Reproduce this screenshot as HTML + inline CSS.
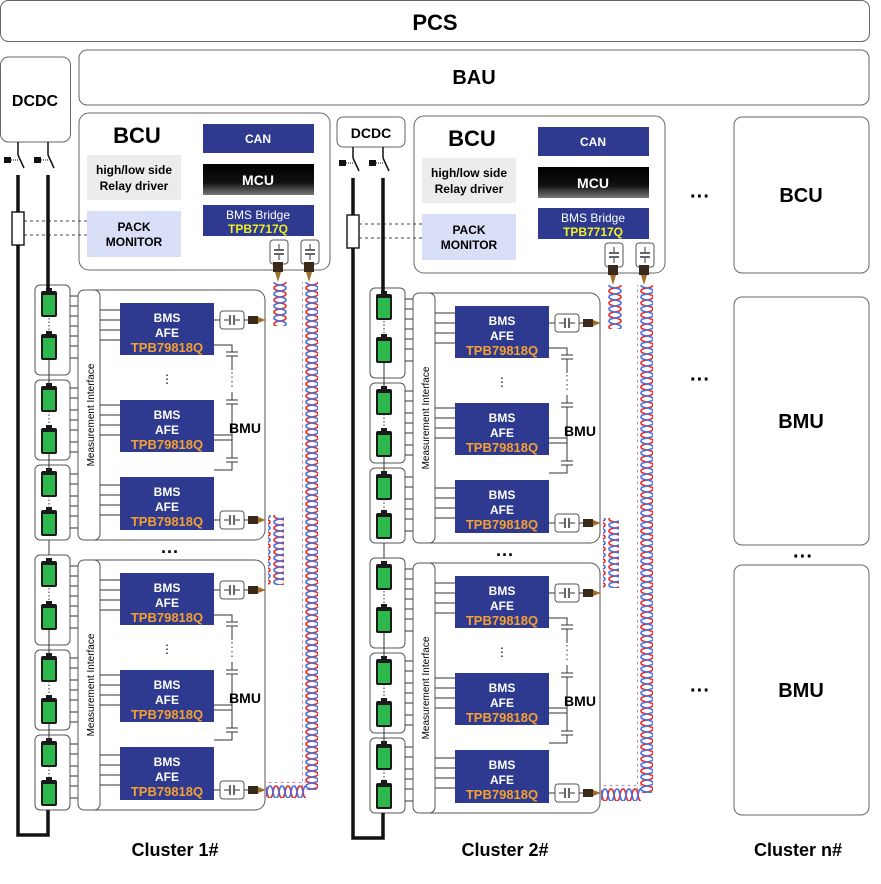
<!DOCTYPE html>
<html><head><meta charset="utf-8"><style>
html,body{margin:0;padding:0;background:#fff}
svg{display:block;font-family:"Liberation Sans",Arial,sans-serif}
.b{font-weight:bold}
</style></head><body>
<svg width="881" height="884" viewBox="0 0 881 884" xmlns="http://www.w3.org/2000/svg">
<defs>
<linearGradient id="mcu" x1="0" y1="0" x2="0" y2="1"><stop offset="0" stop-color="#000"/><stop offset="0.6" stop-color="#111"/><stop offset="1" stop-color="#777"/></linearGradient>
<pattern id="tw" width="16" height="12" patternUnits="userSpaceOnUse">
<path d="M2,0 C2,4 14,2 14,6 C14,10 2,8 2,12" stroke="#e03030" stroke-width="1.6" fill="none"/>
<path d="M14,0 C14,4 2,2 2,6 C2,10 14,8 14,12" stroke="#4a6ee0" stroke-width="1.6" fill="none"/>
</pattern>
<pattern id="twh" width="12" height="16" patternUnits="userSpaceOnUse">
<path d="M0,2 C4,2 2,14 6,14 C10,14 8,2 12,2" stroke="#e03030" stroke-width="1.6" fill="none"/>
<path d="M0,14 C4,14 2,2 6,2 C10,2 8,14 12,14" stroke="#4a6ee0" stroke-width="1.6" fill="none"/>
</pattern>
<g id="cell"><rect x="0" y="0" width="16" height="26" rx="2" fill="#1a1a1a"/><rect x="2" y="4" width="12" height="20" fill="#2db84d"/><rect x="5" y="-3" width="6" height="4" fill="#1a1a1a"/></g>
<g id="xf"><rect x="0" y="0" width="24" height="18" rx="3" fill="#fff" stroke="#555"/><line x1="10" y1="4" x2="10" y2="14" stroke="#333" stroke-width="1.5"/><line x1="14" y1="4" x2="14" y2="14" stroke="#333" stroke-width="1.5"/><line x1="4" y1="9" x2="9" y2="9" stroke="#333"/><line x1="15" y1="9" x2="20" y2="9" stroke="#333"/></g>
<g id="conn"><rect x="0" y="-4" width="10" height="8" fill="#3a2a1a"/><path d="M10,-3 L18,0 L10,3Z" fill="#a0702a"/></g>
<g id="cap"><line x1="-6" y1="0" x2="6" y2="0" stroke="#333"/><line x1="-6" y1="4" x2="6" y2="4" stroke="#333"/></g>
<g id="mod">
<rect x="35" y="285" width="35" height="90" rx="5" fill="#fff" stroke="#555"/>
<rect x="35" y="380" width="35" height="80" rx="5" fill="#fff" stroke="#555"/>
<rect x="35" y="465" width="35" height="75" rx="5" fill="#fff" stroke="#555"/>
<use href="#cell" x="41" y="291"/><use href="#cell" x="41" y="334"/>
<use href="#cell" x="41" y="386"/><use href="#cell" x="41" y="428"/>
<use href="#cell" x="41" y="471"/><use href="#cell" x="41" y="510"/>
<line x1="49" y1="318" x2="49" y2="332" stroke="#333" stroke-dasharray="1.5,2"/>
<line x1="49" y1="411" x2="49" y2="426" stroke="#333" stroke-dasharray="1.5,2"/>
<line x1="49" y1="496" x2="49" y2="508" stroke="#333" stroke-dasharray="1.5,2"/>
<line x1="49" y1="360" x2="49" y2="385" stroke="#333"/>
<line x1="49" y1="453" x2="49" y2="470" stroke="#333"/>
<path d="M70,296H78M70,306H78M70,316H78M70,326H78M70,336H78M70,346H78M70,358H78M70,388H78M70,398H78M70,410H78M70,420H78M70,430H78M70,442H78M70,452H78M70,474H78M70,484H78M70,496H78M70,506H78M70,516H78M70,528H78" stroke="#333"/>
<rect x="78" y="290" width="187" height="250" rx="10" fill="none" stroke="#555"/>
<rect x="78" y="290" width="22" height="250" rx="6" fill="#fff" stroke="#555"/>
<path d="M100,310H120M100,320H120M100,330H120M100,340H120M100,405H120M100,415H120M100,425H120M100,435H120M100,485H120M100,495H120M100,505H120M100,515H120" stroke="#333"/>
<rect x="120" y="303" width="94" height="52" fill="#2e3a8f"/>
<rect x="120" y="400" width="94" height="52" fill="#2e3a8f"/>
<rect x="120" y="477" width="94" height="53" fill="#2e3a8f"/>
<path d="M214,345H232V352M232,356V370M232,392V400M232,404V440H214M214,435H232V458M232,462V470H214" stroke="#333" fill="none"/>
<use href="#cap" x="232" y="352"/><use href="#cap" x="232" y="400"/><use href="#cap" x="232" y="458"/>
<line x1="232" y1="372" x2="232" y2="390" stroke="#333" stroke-dasharray="1.5,3"/>
<line x1="214" y1="320" x2="220" y2="320" stroke="#333"/><use href="#xf" x="220" y="311"/><line x1="244" y1="320" x2="248" y2="320" stroke="#333"/><use href="#conn" x="248" y="320"/>
<line x1="214" y1="520" x2="220" y2="520" stroke="#333"/><use href="#xf" x="220" y="511"/><line x1="244" y1="520" x2="248" y2="520" stroke="#333"/><use href="#conn" x="248" y="520"/>
</g>
<g id="clu">
<rect x="79" y="113" width="251" height="157" rx="10" fill="#fff" stroke="#666"/>
<rect x="87" y="155" width="94" height="45" fill="#ececec"/>
<rect x="87" y="211" width="94" height="46" fill="#d9dff7"/>
<rect x="203" y="124" width="111" height="29" fill="#2e3a8f"/>
<rect x="203" y="164" width="111" height="31" fill="url(#mcu)"/>
<rect x="203" y="205" width="111" height="31" fill="#2e3a8f"/>
<line x1="24" y1="221" x2="87" y2="221" stroke="#444" stroke-dasharray="3,3"/>
<line x1="24" y1="235" x2="87" y2="235" stroke="#444" stroke-dasharray="3,3"/>
<use href="#xf" transform="translate(270,240) rotate(90) translate(0,-18)"/>
<use href="#xf" transform="translate(301,240) rotate(90) translate(0,-18)"/>
<rect x="273" y="262" width="10" height="10" fill="#3a2a1a"/><rect x="304" y="262" width="10" height="10" fill="#3a2a1a"/>
<path d="M275,272L278,282L281,272ZM306,272L309,282L312,272Z" fill="#a0702a"/>
<rect x="271" y="282" width="16" height="44" fill="url(#tw)"/>
<rect x="302" y="282" width="16" height="508" fill="url(#tw)"/>
<rect x="266" y="782" width="40" height="16" fill="url(#twh)"/>
<rect x="268" y="515" width="16" height="70" fill="url(#tw)"/>
<use href="#mod"/>
<use href="#mod" y="270"/>
<rect x="12" y="212" width="12" height="33" fill="#fff" stroke="#222" stroke-width="1.5"/>
<path d="M18,175V212M18,245V835H48V810" stroke="#111" stroke-width="3.5" fill="none"/>
<path d="M48,175V290" stroke="#111" stroke-width="3.5" fill="none"/>
<path d="M18,155L24,168M48,155L54,168" stroke="#111" stroke-width="1.5"/>
<rect x="4" y="157" width="7" height="6" fill="#111"/><rect x="34" y="157" width="7" height="6" fill="#111"/>
<line x1="11" y1="160" x2="18" y2="160" stroke="#111" stroke-dasharray="1,1"/><line x1="41" y1="160" x2="48" y2="160" stroke="#111" stroke-dasharray="1,1"/>
<line x1="49" y1="540" x2="49" y2="555" stroke="#333"/>
</g>
</defs>

<rect x="0.5" y="0.5" width="869" height="41" rx="8" fill="#fff" stroke="#666"/>
<text x="435" y="30" text-anchor="middle" class="b" font-size="22">PCS</text>
<rect x="79" y="50" width="790" height="55" rx="8" fill="#fff" stroke="#666"/>
<text x="474" y="84" text-anchor="middle" class="b" font-size="20">BAU</text>
<rect x="0.5" y="57" width="70" height="85" rx="8" fill="#fff" stroke="#666"/>
<text x="35" y="106" text-anchor="middle" class="b" font-size="16">DCDC</text>
<line x1="18" y1="142" x2="18" y2="155" stroke="#111" stroke-width="1.5"/><line x1="48" y1="142" x2="48" y2="155" stroke="#111" stroke-width="1.5"/>

<use href="#clu"/>
<g transform="translate(335,3)"><use href="#clu"/>
<rect x="2" y="114" width="68" height="30" rx="6" fill="#fff" stroke="#666"/>
<text x="36" y="135" text-anchor="middle" class="b" font-size="14">DCDC</text>
<line x1="18" y1="144" x2="18" y2="155" stroke="#111" stroke-width="1.5"/><line x1="48" y1="144" x2="48" y2="155" stroke="#111" stroke-width="1.5"/>
</g>

<g font-weight="bold" text-anchor="middle">
<text x="137" y="143" font-size="22">BCU</text>
<text x="134" y="174" font-size="12">high/low side</text><text x="134" y="190" font-size="12">Relay driver</text>
<text x="134" y="231" font-size="12">PACK</text><text x="134" y="246" font-size="12">MONITOR</text>
<text x="258" y="143" font-size="12" fill="#fff">CAN</text>
<text x="258" y="185" font-size="14" fill="#fff">MCU</text>
<text x="258" y="219" font-size="12" fill="#fff" font-weight="normal">BMS Bridge</text>
<text x="258" y="233" font-size="12" fill="#f0f020">TPB7717Q</text>
<text x="170" y="558" font-size="18">···</text>
<text x="245" y="433" font-size="14">BMU</text><text x="245" y="703" font-size="14">BMU</text>
<text x="175" y="856" font-size="18">Cluster 1#</text>
<g fill="#fff" font-size="12"><text x="167" y="322">BMS</text><text x="167" y="337">AFE</text><text x="167" y="419">BMS</text><text x="167" y="434">AFE</text><text x="167" y="496">BMS</text><text x="167" y="511">AFE</text>
<text x="167" y="592">BMS</text><text x="167" y="607">AFE</text><text x="167" y="689">BMS</text><text x="167" y="704">AFE</text><text x="167" y="766">BMS</text><text x="167" y="781">AFE</text></g>
<g fill="#f5a030" font-size="13"><text x="167" y="352">TPB79818Q</text><text x="167" y="449">TPB79818Q</text><text x="167" y="526">TPB79818Q</text><text x="167" y="622">TPB79818Q</text><text x="167" y="719">TPB79818Q</text><text x="167" y="796">TPB79818Q</text></g>
<g font-size="12" font-weight="normal"><text x="167" y="383">⋮</text><text x="167" y="653">⋮</text></g>
<g transform="translate(335,3)">
<text x="137" y="143" font-size="22">BCU</text>
<text x="134" y="174" font-size="12">high/low side</text><text x="134" y="190" font-size="12">Relay driver</text>
<text x="134" y="231" font-size="12">PACK</text><text x="134" y="246" font-size="12">MONITOR</text>
<text x="258" y="143" font-size="12" fill="#fff">CAN</text>
<text x="258" y="185" font-size="14" fill="#fff">MCU</text>
<text x="258" y="219" font-size="12" fill="#fff" font-weight="normal">BMS Bridge</text>
<text x="258" y="233" font-size="12" fill="#f0f020">TPB7717Q</text>
<text x="170" y="558" font-size="18">···</text>
<text x="245" y="433" font-size="14">BMU</text><text x="245" y="703" font-size="14">BMU</text>
<g fill="#fff" font-size="12"><text x="167" y="322">BMS</text><text x="167" y="337">AFE</text><text x="167" y="419">BMS</text><text x="167" y="434">AFE</text><text x="167" y="496">BMS</text><text x="167" y="511">AFE</text>
<text x="167" y="592">BMS</text><text x="167" y="607">AFE</text><text x="167" y="689">BMS</text><text x="167" y="704">AFE</text><text x="167" y="766">BMS</text><text x="167" y="781">AFE</text></g>
<g fill="#f5a030" font-size="13"><text x="167" y="352">TPB79818Q</text><text x="167" y="449">TPB79818Q</text><text x="167" y="526">TPB79818Q</text><text x="167" y="622">TPB79818Q</text><text x="167" y="719">TPB79818Q</text><text x="167" y="796">TPB79818Q</text></g>
<g font-size="12" font-weight="normal"><text x="167" y="383">⋮</text><text x="167" y="653">⋮</text></g>
</g>
<text x="505" y="856" font-size="18">Cluster 2#</text>
<text x="798" y="856" font-size="18">Cluster n#</text>
</g>
<g font-size="10" text-anchor="middle">
<text transform="translate(94,415) rotate(-90)">Measurement Interface</text>
<text transform="translate(94,685) rotate(-90)">Measurement Interface</text>
<text transform="translate(429,418) rotate(-90)">Measurement Interface</text>
<text transform="translate(429,688) rotate(-90)">Measurement Interface</text>
</g>

<rect x="734" y="117" width="135" height="156" rx="8" fill="#fff" stroke="#666"/>
<rect x="734" y="297" width="135" height="248" rx="8" fill="#fff" stroke="#666"/>
<rect x="734" y="565" width="135" height="250" rx="8" fill="#fff" stroke="#666"/>
<g class="b" text-anchor="middle" font-size="20">
<text x="801" y="202">BCU</text><text x="801" y="428">BMU</text><text x="801" y="697">BMU</text>
<text x="700" y="203">···</text><text x="700" y="386">···</text><text x="700" y="697">···</text><text x="803" y="563">···</text>
</g>
</svg>
</body></html>
